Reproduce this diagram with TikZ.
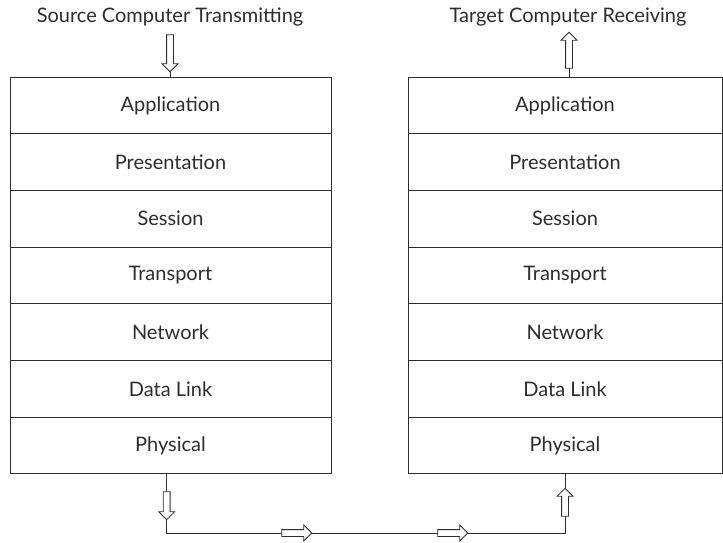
\documentclass[tikz,border=0pt]{standalone}
\usepackage{fontspec}
\setmainfont{Lato}
\usetikzlibrary{positioning, shapes.arrows}
\definecolor{osiink}{RGB}{45,45,45}

\begin{document}
\begin{tikzpicture}[
  x=1pt, y=-1pt,
  node distance=0pt,
  layer/.style={draw=osiink, line width=0.9pt, minimum width=321pt, minimum height=56.7pt, outer sep=0pt, inner sep=0pt, font=\fontsize{20}{24}\selectfont, text=osiink},
  caption/.style={font=\fontsize{20}{24}\selectfont, text=osiink, inner sep=0pt},
  hollow/.style={single arrow, draw=osiink, line width=0.8pt, fill=white, inner xsep=0pt, inner ysep=3pt, single arrow head extend=4.5pt, outer sep=0pt},
  wire/.style={draw=osiink, line width=0.9pt}
]
  \useasboundingbox (0,0) rectangle (723,542);

  % source side
  \node[layer] (sA) at (170.5,105.35) {Application};
  \node[layer, below=of sA] (sB) {Presentation};
  \node[layer, below=of sB] (sC) {Session};
  \node[layer, below=of sC] (sD) {Transport};
  \node[layer, below=of sD] (sE) {Network};
  \node[layer, below=of sE] (sF) {Data Link};
  \node[layer, below=of sF] (sG) {Physical};

  % target side
  \node[layer, minimum width=314pt] (tA) at (565,105.35) {Application};
  \node[layer, minimum width=314pt, below=of tA] (tB) {Presentation};
  \node[layer, minimum width=314pt, below=of tB] (tC) {Session};
  \node[layer, minimum width=314pt, below=of tC] (tD) {Transport};
  \node[layer, minimum width=314pt, below=of tD] (tE) {Network};
  \node[layer, minimum width=314pt, below=of tE] (tF) {Data Link};
  \node[layer, minimum width=314pt, below=of tF] (tG) {Physical};

  \node[caption] (src) at (170,17) {Source Computer Transmitting};
  \node[caption] (dst) at (568,17) {Target Computer Receiving};

  % top arrows
  \node[hollow, rotate=-90, minimum height=37pt] (srcIn) at (170,51.5) {};
  \draw[wire] (srcIn.tip) -- (srcIn.tip |- sA.north);
  \node[hollow, rotate=90, minimum height=36pt] (dstOut) at (569,52) {};
  \draw[wire] (dstOut.tail) -- (dstOut.tail |- tA.north);

  % physical link
  \coordinate (bl) at (166.7,533);
  \coordinate (br) at (565,533);
  \draw[wire] (sG.south -| bl) -- (bl) -- (br) -- (tG.south -| br);
  \node[hollow, rotate=-90, minimum height=28pt] (down) at (166.7,504) {};
  \node[hollow, minimum height=30pt] (right1) at (295,533) {};
  \node[hollow, minimum height=30pt] (right2) at (451,533) {};
  \node[hollow, rotate=90, minimum height=28pt] (up) at (565,504) {};
\end{tikzpicture}
\end{document}
